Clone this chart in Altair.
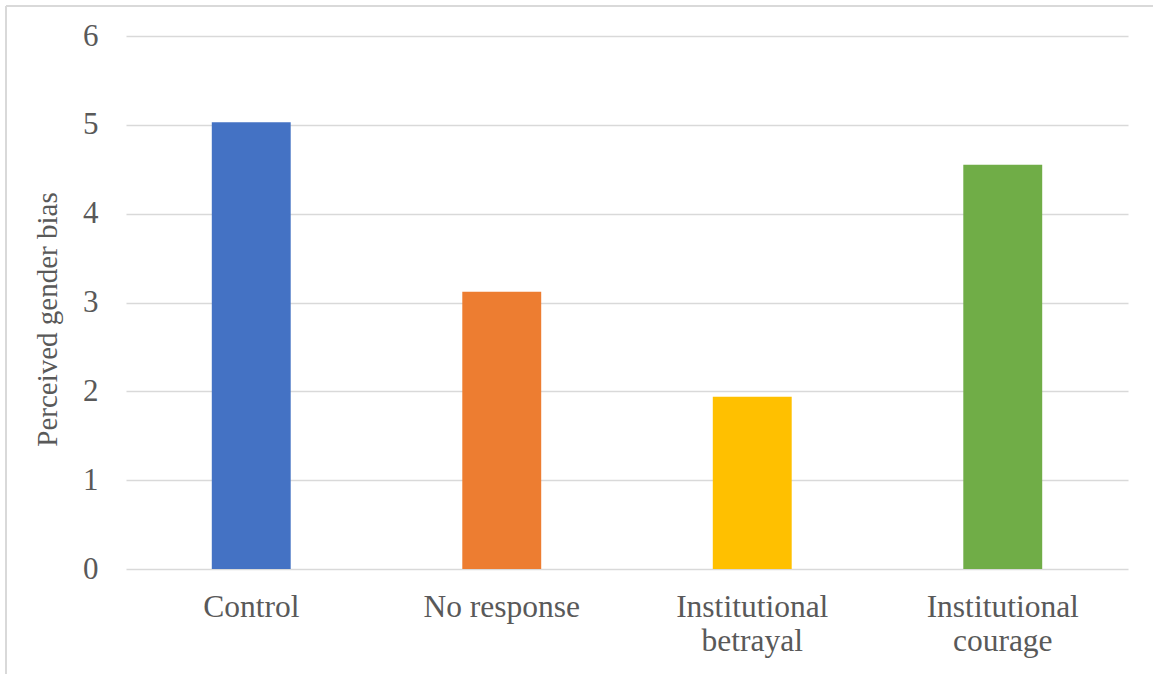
import altair as alt
import pandas as pd

# Mean perceived gender bias per condition
conditions = ["Control", "No response", "Institutional betrayal", "Institutional courage"]
bias_scores = [5.03, 3.12, 1.94, 4.55]
bar_colors = ["#4472C4", "#ED7D31", "#FFC000", "#70AD47"]

df = pd.DataFrame({"condition": conditions, "bias": bias_scores})

FONT = "serif"
TEXT = "#595959"
GRID = "#d9d9d9"

bars = alt.Chart(df).mark_bar().encode(
    x=alt.X(
        "condition:N",
        sort=conditions,
        title=None,
        scale=alt.Scale(paddingInner=0.685, paddingOuter=0.3425),
        axis=alt.Axis(
            labelAngle=0,
            labelFont=FONT,
            labelFontSize=31.5,
            labelColor=TEXT,
            labelPadding=22,
            labelLineHeight=34,
            labelExpr="indexof(datum.label, 'Institutional') == 0 ? split(datum.label, ' ') : datum.label",
            domain=False,
            ticks=False,
        ),
    ),
    y=alt.Y(
        "bias:Q",
        title="Perceived gender bias",
        scale=alt.Scale(domain=[0, 6], nice=False),
        axis=alt.Axis(
            values=[0, 1, 2, 3, 4, 5, 6],
            labelFont=FONT,
            labelFontSize=31,
            labelColor=TEXT,
            labelPadding=28,
            titleFont=FONT,
            titleFontSize=29,
            titleFontWeight="normal",
            titleColor=TEXT,
            titleX=-79,
            titleY=283,
            titleBaseline="middle",
            domain=False,
            ticks=False,
            grid=True,
            gridColor=GRID,
            gridWidth=1.5,
        ),
    ),
    color=alt.Color("condition:N", scale=alt.Scale(domain=conditions, range=bar_colors), legend=None),
)

# Thin frame along the top and left edges of the chart area
frame_top = alt.Chart(df).mark_rule(color=GRID, strokeWidth=1.5, clip=False).encode(
    x=alt.value(-120), x2=alt.value(1030), y=alt.value(-30)
)
frame_left = alt.Chart(df).mark_rule(color=GRID, strokeWidth=1.5, clip=False).encode(
    x=alt.value(-120), y=alt.value(-30), y2=alt.value(640)
)

chart = (
    alt.layer(bars, frame_top, frame_left)
    .properties(
        width=1002,
        height=533,
        autosize=alt.AutoSizeParams(type="none"),
        padding={"left": 126, "top": 36, "right": 25, "bottom": 105},
        background="white",
    )
    .configure_view(stroke=None)
)

chart.save("out.html", embed_options={"renderer": "svg", "actions": False})
